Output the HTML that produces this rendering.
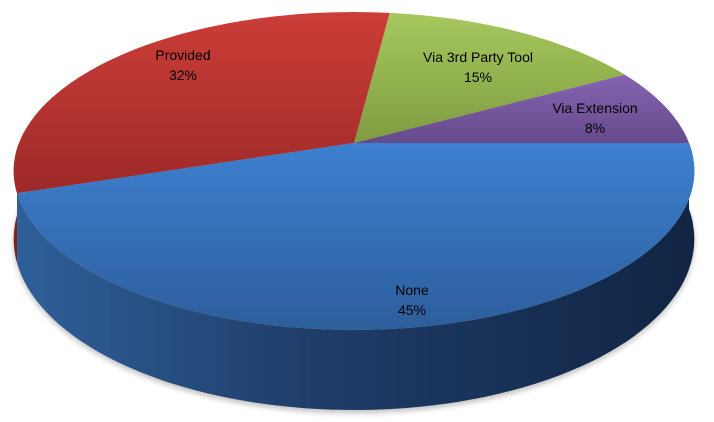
<!DOCTYPE html>
<html><head><meta charset="utf-8"><style>
html,body{margin:0;padding:0;background:#fff;}
svg{display:block;}
text{font-family:"Liberation Sans",sans-serif;font-size:14px;fill:#000;text-anchor:middle;}
</style></head><body>
<svg id="chart" width="714" height="422" viewBox="0 0 714 422" xmlns="http://www.w3.org/2000/svg">
<defs>
<linearGradient id="gBlue" x1="0" y1="0" x2="0" y2="1"><stop offset="0" stop-color="#3d80d0"/><stop offset="1" stop-color="#2d5e9c"/></linearGradient>
<linearGradient id="gRed" x1="0" y1="0" x2="0" y2="1"><stop offset="0" stop-color="#cd3d38"/><stop offset="1" stop-color="#9c2a28"/></linearGradient>
<linearGradient id="gGreen" x1="0" y1="0" x2="0" y2="1"><stop offset="0" stop-color="#a6c85e"/><stop offset="1" stop-color="#7f9c40"/></linearGradient>
<linearGradient id="gPurple" x1="0" y1="0" x2="0" y2="1"><stop offset="0" stop-color="#8564b0"/><stop offset="1" stop-color="#654a8c"/></linearGradient>
<linearGradient id="sBlue" x1="0" y1="0" x2="1" y2="0"><stop offset="0" stop-color="#2f5f98"/><stop offset="0.45" stop-color="#1e3c68"/><stop offset="1" stop-color="#112543"/></linearGradient>
<linearGradient id="sRed" x1="0" y1="0" x2="1" y2="0"><stop offset="0" stop-color="#8a2422"/><stop offset="1" stop-color="#6a1b1a"/></linearGradient>
<filter id="shadow" x="-10%" y="-10%" width="120%" height="130%"><feGaussianBlur stdDeviation="3"/></filter>
</defs>
<g id="plot"></g>
</svg>
<script>
const categories = ["Via Extension", "Via 3rd Party Tool", "Provided", "None"];
const values = [8, 15, 32, 45];
const labels = ["8%", "15%", "32%", "45%"];
const fills = ["url(#gPurple)", "url(#gGreen)", "url(#gRed)", "url(#gBlue)"];
const sides = ["#4f3a70", "#667d33", "url(#sRed)", "url(#sBlue)"];
const labelPos = [[595,113],[478,62],[183,60],[412,295]];

const NS = "http://www.w3.org/2000/svg";
const cx = 354, cy = 143, R = 335, r = 154, p = 0.176, D = 66;
function proj(t, down) {
  const s = Math.sin(t), c = Math.cos(t);
  const k = 1 / (1 - p * s);
  return [cx + R * c * k, cy + r * s * k + (down ? D * k : 0)];
}
const g = document.getElementById('plot');
const total = values.reduce((a, b) => a + b, 0);
let cum = 0;
const slices = values.map(v => { const a0 = -cum / total * 2 * Math.PI; cum += v; return [a0, -cum / total * 2 * Math.PI]; });

// shadow
const sh = document.createElementNS(NS, 'path');
let sd = '';
for (let i = 0; i <= 100; i++) { const q = proj(i / 100 * 2 * Math.PI, true); sd += (i ? 'L' : 'M') + q[0].toFixed(1) + ',' + (q[1] + 3).toFixed(1); }
sh.setAttribute('d', sd + 'Z'); sh.setAttribute('fill', '#000'); sh.setAttribute('opacity', '0.25'); sh.setAttribute('filter', 'url(#shadow)');


g.appendChild(sh);

// sides (front-facing portions, sin>0 => angles between -2pi and -pi)
slices.forEach((sl, i) => {
  let a = Math.max(Math.min(sl[0], -Math.PI), -2 * Math.PI), b = Math.max(sl[1], -2 * Math.PI);
  a = Math.min(sl[0], -Math.PI); b = Math.max(sl[1], -2 * Math.PI);
  if (a <= b) return;
  let d = ''; const n = 80;
  for (let j = 0; j <= n; j++) { const q = proj(a + (b - a) * j / n, false); d += (j ? 'L' : 'M') + q[0].toFixed(1) + ',' + q[1].toFixed(1); }
  for (let j = n; j >= 0; j--) { const q = proj(a + (b - a) * j / n, true); d += 'L' + q[0].toFixed(1) + ',' + q[1].toFixed(1); }
  const el = document.createElementNS(NS, 'path');
  el.setAttribute('d', d + 'Z'); el.setAttribute('fill', sides[i]);
  
  
  g.appendChild(el);
});

// tops
slices.forEach((sl, i) => {
  let d = 'M' + cx + ',' + cy; const n = 80;
  for (let j = 0; j <= n; j++) { const q = proj(sl[0] + (sl[1] - sl[0]) * j / n, false); d += 'L' + q[0].toFixed(1) + ',' + q[1].toFixed(1); }
  const el = document.createElementNS(NS, 'path');
  el.setAttribute('d', d + 'Z'); el.setAttribute('fill', fills[i]);
  
  
  g.appendChild(el);
});

// labels
categories.forEach((c, i) => {
  const t = document.createElementNS(NS, 'text');
  t.setAttribute('x', labelPos[i][0]); t.setAttribute('y', labelPos[i][1]);
  
  
  const s1 = document.createElementNS(NS, 'tspan'); s1.setAttribute('x', labelPos[i][0]); s1.textContent = c;
  const s2 = document.createElementNS(NS, 'tspan'); s2.setAttribute('x', labelPos[i][0]); s2.setAttribute('dy', '20'); s2.textContent = labels[i];
  t.appendChild(s1); t.appendChild(s2); g.appendChild(t);
});
</script>
</body></html>
